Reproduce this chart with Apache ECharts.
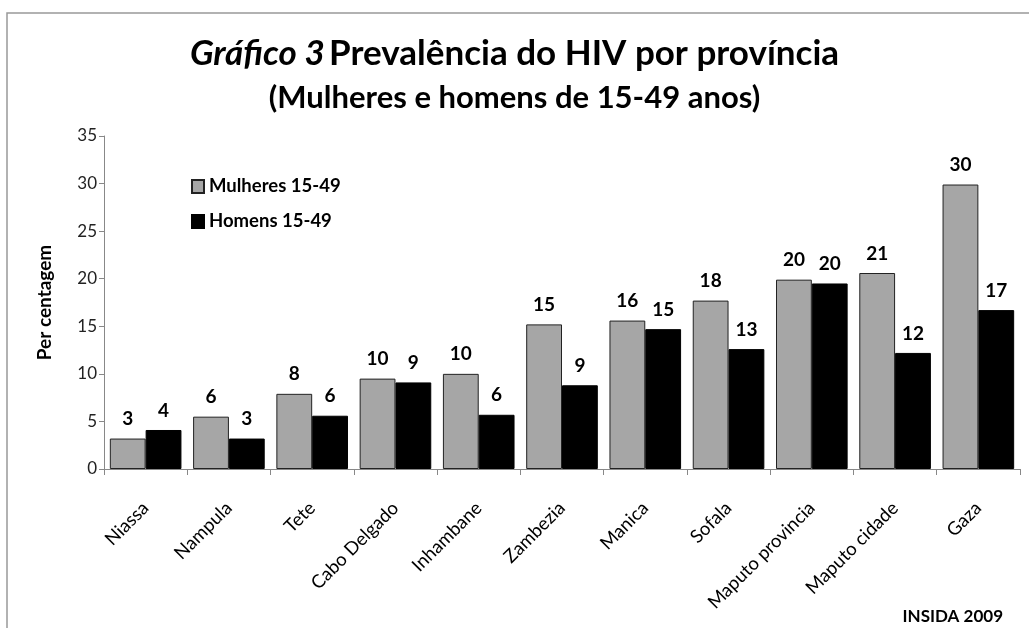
<!DOCTYPE html>
<html>
<head>
<meta charset="utf-8">
<script src="https://cdn.jsdelivr.net/npm/echarts@6/dist/echarts.min.js"></script>
<style>
html,body{margin:0;padding:0;background:#fff;}
#chart{width:1029px;height:628px;}
</style>
</head>
<body>
<div id="chart"></div>
<script>
const categories = ['Niassa','Nampula','Tete','Cabo Delgado','Inhambane','Zambezia','Manica','Sofala','Maputo provincia','Maputo cidade','Gaza'];
const mulheres = [3.2, 5.5, 7.9, 9.5, 10.0, 15.2, 15.6, 17.7, 19.9, 20.6, 29.9];
const homens = [4.1, 3.2, 5.6, 9.1, 5.7, 8.8, 14.7, 12.6, 19.5, 12.2, 16.7];
const yTicks = {min: 0, max: 35, interval: 5};
const seriesNames = ['Mulheres 15-49', 'Homens 15-49'];

const FONT = 'Lato, "Open Sans", sans-serif';
const chart = echarts.init(document.getElementById('chart'), null, {renderer: 'canvas'});
const labelCfg = {
  show: true, position: 'top', distance: 10,
  color: '#000', fontWeight: 'bold', fontSize: 19, fontFamily: FONT,
  formatter: p => String(Math.round(p.value))
};
chart.setOption({
  backgroundColor: '#fff',
  animation: false,
  textStyle: {fontFamily: FONT},
  title: [{
    left: 'center', top: 31,
    text: '{i|Gráfico 3} {b|Prevalência do HIV por província}',
    textStyle: {
      rich: {
        i: {fontFamily: FONT, fontSize: 35, fontWeight: 'bold', fontStyle: 'italic', color: '#000'},
        b: {fontFamily: FONT, fontSize: 35, fontWeight: 'bold', color: '#000'}
      }
    }
  }, {
    left: 'center', top: 77,
    text: '(Mulheres e homens de 15-49 anos)',
    textStyle: {fontFamily: FONT, fontSize: 31, fontWeight: 'bold', color: '#000'}
  }],
  legend: {
    orient: 'vertical', left: 186, top: 172, itemGap: 16,
    itemWidth: 12, itemHeight: 13, icon: 'rect',
    textStyle: {fontFamily: FONT, fontSize: 18.5, fontWeight: 'bold', color: '#000'},
    data: seriesNames
  },
  grid: {left: 104, right: 9, top: 136, bottom: 159, containLabel: false},
  xAxis: {
    type: 'category', data: categories,
    axisLine: {lineStyle: {color: '#888', width: 1}},
    axisTick: {show: true, length: 6, lineStyle: {color: '#888'}},
    axisLabel: {rotate: 45, margin: 36, fontSize: 18.5, color: '#000', fontFamily: FONT, interval: 0}
  },
  yAxis: {
    type: 'value', min: yTicks.min, max: yTicks.max, interval: yTicks.interval,
    name: 'Per centagem', nameLocation: 'middle', nameGap: 50,
    nameTextStyle: {fontFamily: FONT, fontSize: 19, fontWeight: 'bold', color: '#000'},
    splitLine: {show: false},
    axisLine: {show: true, lineStyle: {color: '#888', width: 1}},
    axisTick: {show: true, length: 5, inside: false, lineStyle: {color: '#888'}},
    axisLabel: {fontSize: 17, color: '#222', margin: 7, fontFamily: FONT}
  },
  series: [{
    name: seriesNames[0], type: 'bar', data: mulheres,
    barGap: '0%', barCategoryGap: '14%',
    itemStyle: {color: '#a6a6a6', borderColor: '#222', borderWidth: 1},
    label: labelCfg
  }, {
    name: seriesNames[1], type: 'bar', data: homens,
    itemStyle: {color: '#000', borderColor: '#000', borderWidth: 1},
    label: labelCfg
  }],
  graphic: [{
    type: 'rect', shape: {x: 7, y: 13, width: 1040, height: 640},
    style: {fill: 'none', stroke: '#999', lineWidth: 1.5}, z: -1, silent: true
  }, {
    type: 'text', right: 26, top: 608,
    style: {text: 'INSIDA 2009', font: 'bold 17px ' + FONT, fill: '#000'}
  }]
});
</script>
</body>
</html>
